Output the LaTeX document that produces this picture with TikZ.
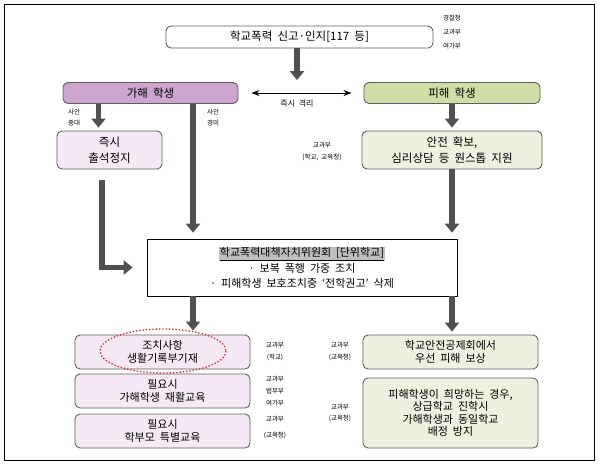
\documentclass[tikz,border=0pt]{standalone}
\usepackage{fontspec}
\setmainfont{Noto Sans CJK KR}[WordSpace=2]
\usetikzlibrary{arrows.meta}
\definecolor{boxline}{RGB}{95,95,95}
\definecolor{arrowgray}{RGB}{80,80,80}
\definecolor{offender}{RGB}{204,166,206}
\definecolor{offenderlight}{RGB}{246,232,244}
\definecolor{victim}{RGB}{206,222,166}
\definecolor{victimlight}{RGB}{237,241,223}
\definecolor{titlegray}{RGB}{190,190,190}
\definecolor{dotred}{RGB}{200,40,40}
\setlength{\fboxsep}{0.8pt}
\begin{document}
\begin{tikzpicture}[x = 1pt, y = -1pt,
	mbox/.style = {shape = rectangle,
	               rounded corners = 5pt,
	               draw = boxline,
	               line width = 0.9pt,
	               inner sep = 1pt,
	               align = center,
	               font = \fontsize{11}{12.5}\selectfont},
	hbox/.style = {mbox, font = \fontsize{11.5}{16.5}\selectfont},
	mlabel/.style = {inner sep = 0pt,
	                 align = center,
	                 font = \fontsize{6.5}{12}\selectfont},
	bigarrow/.style = {draw = arrowgray,
	                   line width = 5.5pt,
	                   -{Triangle[length = 9pt, width = 14pt]}},
	isoarrow/.style = {draw = black,
	                   line width = 1pt,
	                   {Stealth[length = 8pt, width = 6pt]}-{Stealth[length = 8pt, width = 6pt]}}]
	\useasboundingbox (0,0) rectangle (599,467);
	\draw[line width = 1pt] (4,4) rectangle (594,460);
	\node[hbox, fill = white, minimum width = 267pt, minimum height = 22pt] (rep) at (299.5,37) {학교폭력 신고·인지[117 등]};
	\node[mlabel, font = \fontsize{6.5}{14}\selectfont] (reporg) at (452,32) {경찰청\\교과부\\여가부};
	\node[hbox, fill = offender, minimum width = 175pt, minimum height = 21pt] (ka) at (150.5,93) {가해 학생};
	\node[hbox, fill = victim, minimum width = 176pt, minimum height = 21pt] (pi) at (452,93) {피해 학생};
	\node[mlabel] (iso) at (297,104) {\fontsize{8}{9}\selectfont 즉시 격리};
	\node[hbox, fill = offenderlight, minimum width = 105pt, minimum height = 38pt] (sus) at (109.5,150) {즉시\\출석정지};
	\node[hbox, fill = victimlight, minimum width = 180pt, minimum height = 38pt] (safe) at (452,150) {안전 확보,\\심리상담 등 원스톱 지원};
	\node[mlabel, font = \fontsize{6.5}{11}\selectfont] (serious) at (74,118) {사안\\중대};
	\node[mlabel, font = \fontsize{6.5}{11}\selectfont] (minor) at (213,118) {사안\\경미};
	\node[mlabel] (safeorg) at (322,151) {교과부\\(학교, 교육청)};
	\node[shape = rectangle, draw = black, line width = 0.7pt, align = center,
	      minimum width = 310pt, minimum height = 57pt,
	      font = \fontsize{11}{15.5}\selectfont] (cmt) at (302,267.5)
	      {\colorbox{titlegray}{\underline{학교폭력대책자치위원회 [단위학교]}}\\
	       · 보복 폭행 가중 조치\\
	       · 피해학생 보호조치중 ‘전학권고’ 삭제};
	\node[mbox, fill = offenderlight, minimum width = 175pt, minimum height = 34pt] (rec) at (162.5,352) {조치사항\\생활기록부기재};
	\node[mbox, fill = offenderlight, minimum width = 175pt, minimum height = 34pt] (reh) at (162.5,391) {필요시\\가해학생 재활교육};
	\node[mbox, fill = offenderlight, minimum width = 175pt, minimum height = 34pt] (par) at (162.5,431) {필요시\\학부모 특별교육};
	\node[mbox, fill = victimlight, minimum width = 175pt, minimum height = 34pt] (comp) at (450.5,352) {학교안전공제회에서\\우선 피해 보상};
	\node[mbox, fill = victimlight, minimum width = 175pt, minimum height = 70pt] (asg) at (450.5,413) {피해학생이 희망하는 경우,\\상급학교 진학시\\가해학생과 동일학교\\배정 방지};
	\node[mlabel] (recorg) at (275,351) {교과부\\(학교)};
	\node[mlabel] (rehorg) at (275,391) {교과부\\법무부\\여가부};
	\node[mlabel, font = \fontsize{6.5}{16}\selectfont] (parorg) at (275,427) {교과부\\(교육청)};
	\node[mlabel] (comporg) at (340,351) {교과부\\(교육청)};
	\node[mlabel, font = \fontsize{6.5}{11}\selectfont] (asgorg) at (340,413) {교과부\\(교육청)};
	\draw[dotred, line width = 1.3pt, dotted] (163,351) ellipse [x radius = 63, y radius = 22];
	\coordinate (mild) at (193,0);
	\coordinate (gap) at (297,0);
	\draw[bigarrow, shorten >= 2pt] (rep.south -| gap) -- (ka.north -| gap);
	\draw[isoarrow, shorten <= 13pt, shorten >= 12pt] (ka.east) -- (pi.west);
	\draw[bigarrow, shorten >= 3pt] ([xshift = -11pt]sus.north |- ka.south) -- ([xshift = -11pt]sus.north);
	\draw[bigarrow, shorten >= 6pt] (ka.south -| mild) -- (cmt.north -| mild);
	\draw[bigarrow, shorten <= 11pt, shorten >= 14pt] ([xshift = -7.5pt]sus.south) |- (cmt.west);
	\draw[bigarrow, shorten >= 3pt] (pi.south) -- (safe.north);
	\draw[bigarrow, shorten >= 6pt] (safe.south) -- (cmt.north -| safe.south);
	\draw[bigarrow, shorten >= 4pt] (cmt.south -| mild) -- (rec.north -| mild);
	\draw[bigarrow, shorten >= 3pt] (cmt.south -| safe.south) -- (comp.north -| safe.south);
\end{tikzpicture}
\end{document}
